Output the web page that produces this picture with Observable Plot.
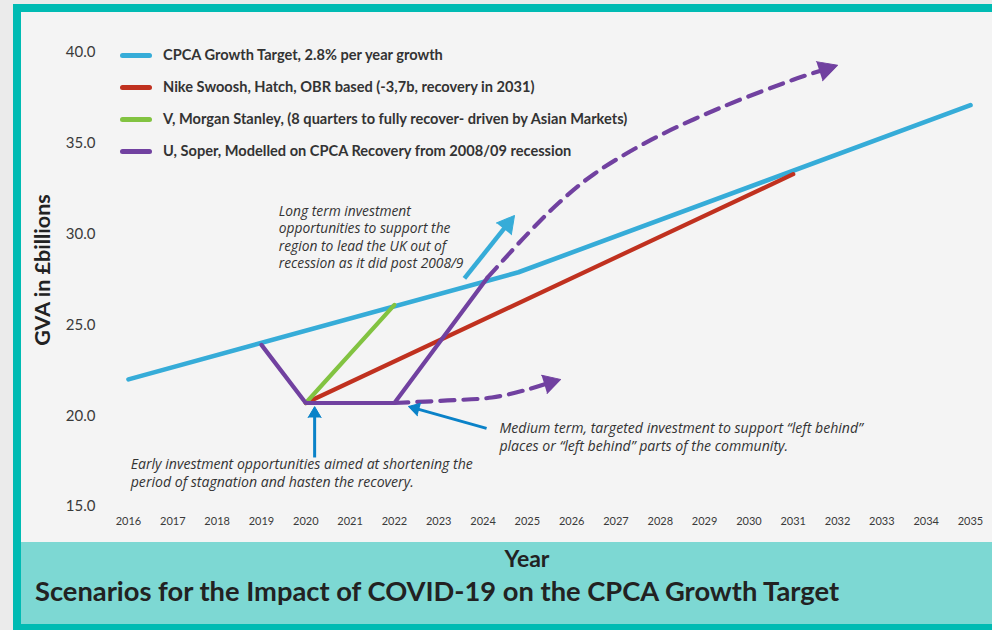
<!DOCTYPE html>
<html><head><meta charset="utf-8">
<script src="https://cdn.jsdelivr.net/npm/d3@7"></script>
<script src="https://cdn.jsdelivr.net/npm/@observablehq/plot@0.6"></script>
<style>
html,body{margin:0;padding:0;background:#ebebeb;width:992px;height:630px;overflow:hidden;font-family:Lato,"Noto Sans",sans-serif;}
#frame{position:absolute;left:13px;top:4px;width:979px;height:626px;background:#00bbb3;}
#panel{position:absolute;left:21px;top:12px;width:971px;height:530px;background:#f4f4f4;}
#band{position:absolute;left:21px;top:542px;width:971px;height:82px;background:#7dd8d3;}
#xlabel{position:absolute;left:0;width:1012px;top:2px;text-align:center;font-weight:700;font-size:23px;color:#222;}
#title{position:absolute;left:14px;top:32px;font-weight:700;font-size:27.3px;color:#222;white-space:nowrap;}
#ylabel{position:absolute;left:21px;top:258px;transform:translate(-50%,-50%) rotate(-90deg);font-weight:700;font-size:21.5px;color:#222;white-space:nowrap;}
#legend{position:absolute;left:99px;top:0;}
.li{position:absolute;left:0;white-space:nowrap;font-weight:700;font-size:14.6px;color:#333;height:20px;}
.li span.sw{position:absolute;left:0;top:8px;width:32px;height:5px;border-radius:3px;}
.li span.tx{position:absolute;left:43px;top:0;line-height:20px;}
#chart{position:absolute;left:0;top:0;}
#chart svg g[aria-label="x-axis tick label"]{font-size:11px;}
#chart svg g[aria-label="y-axis tick label"]{font-size:15px;}
</style>
</head><body>
<div id="frame"></div>
<div id="panel"><div id="chart"></div><div id="legend"></div><div id="ylabel">GVA in £billions</div></div>
<div id="band"><div id="xlabel">Year</div><div id="title">Scenarios for the Impact of COVID-19 on the CPCA Growth Target</div></div>
<script>
// ---- data ----
const yearTicks = [2016,2017,2018,2019,2020,2021,2022,2023,2024,2025,2026,2027,2028,2029,2030,2031,2032,2033,2034,2035];
const valueTicks = [15,20,25,30,35,40];

const seriesNames = [
  "CPCA Growth Target, 2.8% per year growth",
  "Nike Swoosh, Hatch, OBR based (-3,7b, recovery in 2031)",
  "V, Morgan Stanley, (8 quarters to fully recover- driven by Asian Markets)",
  "U, Soper, Modelled on CPCA Recovery from 2008/09 recession"
];
const seriesColors = ["#36acd8", "#c0311f", "#82c341", "#7141a0"];

const targetYear = [2016, 2024.8, 2035];
const targetValue = [22.0, 27.9, 37.1];
const swooshYear = [2020, 2031];
const swooshValue = [20.7, 33.3];
const vYear = [2020, 2022];
const vValue = [20.7, 26.1];
const uYear = [2019, 2020, 2022, 2024.1];
const uValue = [23.9, 20.7, 20.7, 27.6];

// dashed purple projections (last point = arrow tip)
const uHighYear = [2024.1, 2025.0, 2025.7, 2026.5, 2027.8, 2029.4, 2031.0, 2032.0];
const uHighValue = [27.6, 30.0, 31.7, 33.3, 35.2, 37.0, 38.5, 39.3];
const uLowYear = [2022.0, 2023.2, 2024.2, 2025.0, 2025.75];
const uLowValue = [20.7, 20.84, 21.0, 21.44, 22.0];

// annotation arrows: [fromYear, fromValue] -> [toYear, toValue]
const arrowFrom = [[2023.58, 27.56], [2020.2, 17.7], [2024.08, 19.3]];
const arrowTo = [[2024.71, 31.02], [2020.2, 20.5], [2022.32, 20.51]];
const arrowColors = ["#36acd8", "#0a82c8", "#0a82c8"];

const noteTexts = [
  "Long term investment\nopportunities to support the\nregion to lead the UK out of\nrecession as it did post 2008/9",
  "Early investment opportunities aimed at shortening the\nperiod of stagnation and hasten the recovery.",
  "Medium term, targeted investment to support “left behind”\nplaces or “left behind” parts of the community."
];
const noteYear = [2019.39, 2016.05, 2024.37];
const noteValue = [31.7, 17.75, 19.74];

// ---- chart ----
const W = 971, H = 530, ML = 107, MR = 22, MT = 40, MB = 36;
const xs = d3.scaleLinear([2016, 2035], [ML, W - MR]);
const ys = d3.scaleLinear([15, 40], [H - MB, MT]);
const zip = (a, b) => a.map((v, i) => ({x: v, y: b[i]}));

function head(x0, y0, x1, y1, len) {
  const dx = xs(x1) - xs(x0), dy = ys(y1) - ys(y0);
  const d = Math.hypot(dx, dy);
  const rot = Math.atan2(dx, -dy) * 180 / Math.PI;
  const bx = xs.invert(xs(x1) - dx / d * len * 0.8);
  const by = ys.invert(ys(y1) - dy / d * len * 0.8);
  return {rot, bx, by};
}

const marks = [];
const lw = 4.2;
marks.push(Plot.line(zip(targetYear, targetValue), {x: "x", y: "y", stroke: seriesColors[0], strokeWidth: 4.6}));
marks.push(Plot.line(zip(swooshYear, swooshValue), {x: "x", y: "y", stroke: seriesColors[1], strokeWidth: lw}));
marks.push(Plot.line(zip(vYear, vValue), {x: "x", y: "y", stroke: seriesColors[2], strokeWidth: lw}));
marks.push(Plot.line(zip(uYear, uValue), {x: "x", y: "y", stroke: seriesColors[3], strokeWidth: lw, strokeLinejoin: "miter"}));

for (const [ys_, vs_, hl, hr] of [[uHighYear, uHighValue, 19, 10], [uLowYear, uLowValue, 17, 9.5]]) {
  const n = ys_.length;
  const h = head(ys_[n - 2], vs_[n - 2], ys_[n - 1], vs_[n - 1], hl);
  const pts = zip(ys_.slice(0, n - 1), vs_.slice(0, n - 1)).concat([{x: h.bx, y: h.by}]);
  marks.push(Plot.line(pts, {x: "x", y: "y", stroke: seriesColors[3], strokeWidth: 4.2, strokeDasharray: "14,9", curve: "catmull-rom"}));
  marks.push(Plot.vector([{x: ys_[n - 1], y: vs_[n - 1]}], {x: "x", y: "y", rotate: h.rot, length: hl, r: hr, shape: "spike", anchor: "end", fill: seriesColors[3], fillOpacity: 1, stroke: seriesColors[3], strokeWidth: 1}));
}

arrowFrom.forEach((f, i) => {
  const t = arrowTo[i];
  const big = i === 0;
  const hl = big ? 17 : 11, hr = big ? 9.5 : 6.5;
  const h = head(f[0], f[1], t[0], t[1], hl);
  marks.push(Plot.link([{x1: f[0], y1: f[1], x2: h.bx, y2: h.by}], {x1: "x1", y1: "y1", x2: "x2", y2: "y2", stroke: arrowColors[i], strokeWidth: big ? 4.5 : 3}));
  marks.push(Plot.vector([{x: t[0], y: t[1]}], {x: "x", y: "y", rotate: h.rot, length: hl, r: hr, shape: "spike", anchor: "end", fill: arrowColors[i], fillOpacity: 1, stroke: arrowColors[i], strokeWidth: 1}));
});

const notes = noteTexts.map((t, i) => ({t, x: noteYear[i], y: noteValue[i]}));
marks.push(Plot.text(notes.slice(0, 1), {
  x: "x", y: "y", text: "t", textAnchor: "start", lineAnchor: "top", lineHeight: 1.27,
  fontSize: 13.8, fontStyle: "italic", fill: "#333", fontFamily: "Open Sans"
}));
marks.push(Plot.text(notes.slice(1), {
  x: "x", y: "y", text: "t", textAnchor: "start", lineAnchor: "top", lineHeight: 1.28,
  fontSize: 14.1, fontStyle: "italic", fill: "#333", fontFamily: "Open Sans"
}));

marks.push(Plot.axisX({ticks: yearTicks, tickFormat: d3.format("d"), tickSize: 0, tickPadding: 11, label: null, fontSize: 11}));
marks.push(Plot.axisY({ticks: valueTicks, tickFormat: d3.format(".1f"), tickSize: 0, tickPadding: 33, label: null, fontSize: 15}));

const chart = Plot.plot({
  width: W, height: H,
  marginLeft: ML, marginRight: MR, marginTop: MT, marginBottom: MB,
  x: {domain: [2016, 2035]},
  y: {domain: [15, 40]},
  style: {background: "transparent", fontFamily: "Lato, sans-serif", color: "#3a3a3a", overflow: "visible"},
  marks
});
document.getElementById("chart").appendChild(chart);

const legend = document.getElementById("legend");
seriesNames.forEach((name, i) => {
  const d = document.createElement("div");
  d.className = "li";
  d.style.top = (33 + i * 32) + "px";
  d.innerHTML = `<span class="sw" style="background:${seriesColors[i]}"></span><span class="tx"></span>`;
  d.querySelector(".tx").textContent = name;
  legend.appendChild(d);
});
</script>
</body></html>
